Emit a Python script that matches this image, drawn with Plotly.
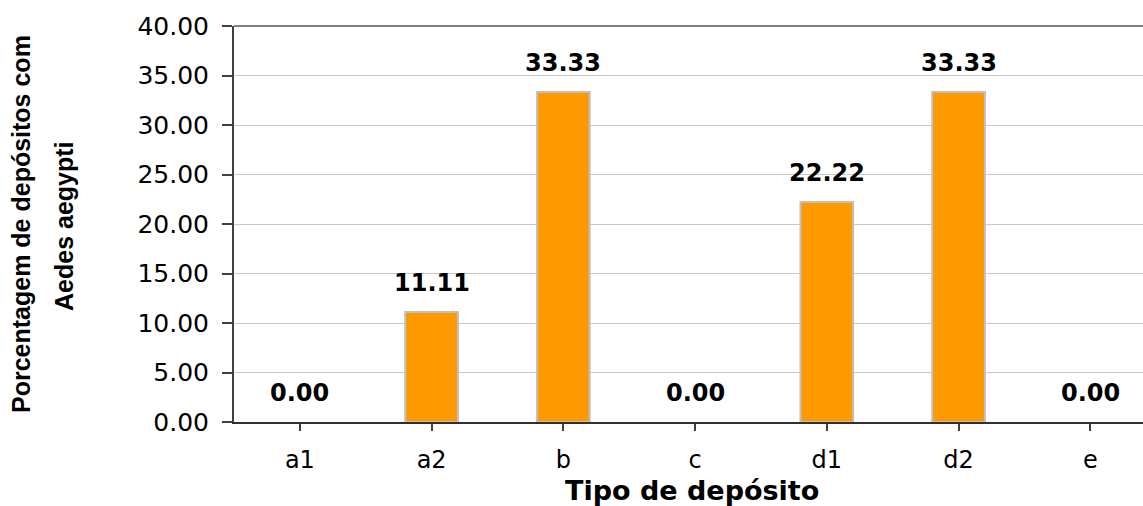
import plotly.graph_objects as go

categories = ["a1", "a2", "b", "c", "d1", "d2", "e"]
values = [0.00, 11.11, 33.33, 0.00, 22.22, 33.33, 0.00]
y_ticks = [0, 5, 10, 15, 20, 25, 30, 35, 40]
y_tick_labels = [f"{v:.2f}" for v in y_ticks]
x_title = "Tipo de depósito"
y_title_1 = "Porcentagem de depósitos com"
y_title_2 = "Aedes aegypti"

W, H = 1143, 506
L, R, T, B = 234, 0, 26, 84
PW, PH = W - L - R, H - T - B


def px_x(px):
    return (px - L) / PW


def px_y(py):
    return (H - B - py) / PH


fig = go.Figure()
fig.add_trace(go.Bar(
    x=list(range(len(categories))),
    y=values,
    width=0.40,
    marker=dict(color="#FF9900",
                line=dict(color="#C0C0C0", width=[2 if v > 0 else 0 for v in values])),
    hoverinfo="skip",
))

annotations = []
for i, v in enumerate(values):
    annotations.append(dict(
        x=i, y=v, xref="x", yref="y", text=f"{v:.2f}", showarrow=False,
        xanchor="center", yanchor="bottom", yshift=13,
        font=dict(family="DejaVu Sans", size=24, color="#000000", weight="bold"),
    ))

annotations.append(dict(
    x=px_x(692), y=px_y(490), xref="paper", yref="paper", text=f"<b>{x_title}</b>",
    showarrow=False, xanchor="center", yanchor="middle",
    font=dict(family="DejaVu Sans", size=27, color="#000000"),
))
annotations.append(dict(
    x=px_x(21), y=px_y(224), xref="paper", yref="paper", text=f"<b>{y_title_1}</b>",
    showarrow=False, xanchor="center", yanchor="middle", textangle=-90,
    font=dict(family="Liberation Sans", size=25, color="#000000"),
))
annotations.append(dict(
    x=px_x(64), y=px_y(226), xref="paper", yref="paper", text=f"<b>{y_title_2}</b>",
    showarrow=False, xanchor="center", yanchor="middle", textangle=-90,
    font=dict(family="Liberation Sans", size=25, color="#000000"),
))

fig.update_layout(
    width=W, height=H,
    margin=dict(l=L, r=R, t=T, b=B, autoexpand=False),
    paper_bgcolor="#FFFFFF", plot_bgcolor="#FFFFFF",
    showlegend=False,
    annotations=annotations,
    shapes=[dict(type="line", xref="paper", yref="paper", x0=0, x1=1, y0=1, y1=1,
                 line=dict(color="#808080", width=2))],
    xaxis=dict(
        range=[-0.5, 6.40],
        tickmode="array", tickvals=list(range(len(categories))), ticktext=categories,
        tickson="boundaries", ticks="outside", ticklen=7, tickwidth=1.5, tickcolor="#404040",
        ticklabelstandoff=8,
        showline=True, linecolor="#303030", linewidth=2,
        showgrid=False, zeroline=False,
        tickfont=dict(family="DejaVu Sans", size=24, color="#000000"),
        automargin=False, fixedrange=True,
    ),
    yaxis=dict(
        range=[0, 40],
        tickmode="array", tickvals=y_ticks, ticktext=y_tick_labels,
        ticks="outside", ticklen=10, tickwidth=1.5, tickcolor="#404040",
        ticklabelstandoff=8,
        showline=True, linecolor="#404040", linewidth=2,
        showgrid=True, gridcolor="#C8C8C8", gridwidth=1,
        zeroline=False,
        tickfont=dict(family="DejaVu Sans", size=25, color="#000000"),
        automargin=False, fixedrange=True,
    ),
)

fig.write_html("out.html", config={"displayModeBar": False})
